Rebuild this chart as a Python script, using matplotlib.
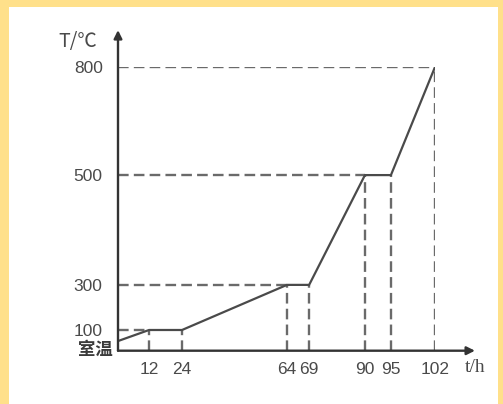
import numpy as np
import matplotlib.pyplot as plt
from matplotlib.patches import Rectangle
import matplotlib.transforms as mtransforms

# 时间 (h) 与温度 (℃)
room_temp = 20
times = [0, 12, 24, 64, 69, 90, 95, 102]
temps = [room_temp, 100, 100, 300, 300, 500, 500, 800]
x_ticks = [12, 24, 64, 69, 90, 95, 102]
y_ticks = [100, 300, 500, 800]

# the original drawing is not to scale: piecewise axis scales
x_anchor = [0, 12, 24, 64, 69, 90, 95, 102]
x_frac = [0, 0.098, 0.202, 0.533, 0.603, 0.779, 0.861, 1.0]
y_anchor = [0, room_temp, 100, 300, 500, 800]
y_frac = [0, 0.034, 0.073, 0.232, 0.619, 1.0]

def fwd_x(v):
    return np.interp(v, x_anchor, x_frac)

def inv_x(v):
    return np.interp(v, x_frac, x_anchor)

def fwd_y(v):
    return np.interp(v, y_anchor, y_frac)

def inv_y(v):
    return np.interp(v, y_frac, y_anchor)

line_col = '#4a4a4a'
dash_col = '#6a6a6a'
text_col = '#4a4a4a'
W, H = 503, 404

fig = plt.figure(figsize=(W / 100, H / 100), dpi=100)
fig.patch.set_facecolor('#FFE08A')
fig.patches.append(Rectangle((9 / W, 0), (498 - 9) / W, (H - 7) / H,
                             transform=fig.transFigure, facecolor='white',
                             edgecolor='none', zorder=-5))

ax = fig.add_axes([118 / W, (H - 350.7) / H, 317 / W, 283.7 / H])
ax.set_zorder(2)
ax.patch.set_alpha(0)
ax.set_xscale('function', functions=(fwd_x, inv_x))
ax.set_yscale('function', functions=(fwd_y, inv_y))
ax.set_xlim(0, 102)
ax.set_ylim(0, 800)

# guide lines
dash = (0, (4.5, 2.2))
for t, T in zip(times[1:], temps[1:]):
    ax.plot([t, t], [0, T], color=dash_col, lw=1.7, linestyle=dash)
for T, t in [(100, 12), (300, 64), (500, 90), (800, 102)]:
    ax.plot([0, t], [T, T], color=dash_col, lw=1.7, linestyle=dash)

ax.plot(times, temps, color=line_col, lw=1.6, zorder=3)

for s in ax.spines.values():
    s.set_visible(False)
ax.annotate('', xy=(0, 1.13), xytext=(0, 0), xycoords='axes fraction',
            arrowprops=dict(arrowstyle='-|>', color='#333333', lw=1.7,
                            mutation_scale=12, shrinkA=0, shrinkB=0))
ax.annotate('', xy=(1.126, 0), xytext=(0, 0), xycoords='axes fraction',
            arrowprops=dict(arrowstyle='-|>', color='#333333', lw=1.7,
                            mutation_scale=12, shrinkA=0, shrinkB=0))

ax.set_xticks(x_ticks)
ax.set_xticklabels([str(v) for v in x_ticks])
ax.set_yticks(y_ticks)
ax.set_yticklabels([str(v) for v in y_ticks])
ax.minorticks_off()
ax.tick_params(axis='x', length=0, pad=8, labelsize=12.5, labelcolor=text_col)
ax.tick_params(axis='y', length=0, pad=11, labelsize=12.5, labelcolor=text_col)
for lab in ax.get_xticklabels() + ax.get_yticklabels():
    lab.set_family('Liberation Sans')

trans = mtransforms.blended_transform_factory(ax.transAxes, ax.transData)
ax.text(-0.015, room_temp + 2, '室温', transform=trans, ha='right', va='top',
        fontsize=12.5, color='#3a3a3a', family=['Noto Sans CJK SC', 'DejaVu Sans'],
        fontweight='bold')

fig.text(78 / W, 1 - 41 / H, 'T/℃', ha='center', va='center', fontsize=14,
         color=text_col, family=['Noto Sans CJK SC', 'DejaVu Sans'])
fig.text(475 / W, 1 - 368 / H, 't/h', ha='center', va='center', fontsize=14,
         color=text_col, family=['Liberation Serif'])

fig.savefig('out.png', dpi=100, facecolor=fig.get_facecolor())
